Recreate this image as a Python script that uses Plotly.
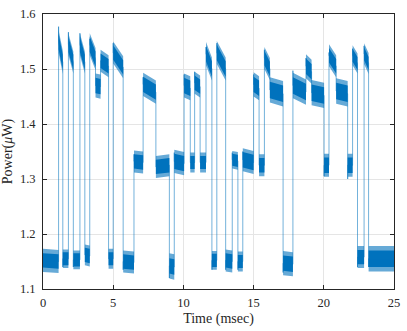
import plotly.graph_objs as go

# plateau edges (msec); plateau i runs t_edges[i] -> t_edges[i+1]
t_edges = [0.0, 1.11, 1.41, 1.81, 2.16, 2.63, 2.98, 3.33, 3.74, 4.10, 4.67,
           5.00, 5.71, 6.48, 7.13, 8.04, 9.00, 9.35, 10.05, 10.49, 10.80,
           11.19, 11.61, 12.03, 12.38, 13.01, 13.48, 13.88, 14.23, 15.00,
           15.39, 15.77, 16.16, 17.10, 17.80, 18.73, 19.13, 20.02, 20.37,
           20.88, 21.70, 22.05, 22.40, 22.87, 23.19, 25.0]
# power level at the start and at the end of each plateau (uW)
lvl_start = [1.152, 1.550, 1.155, 1.545, 1.153, 1.545, 1.162, 1.545, 1.470, 1.515,
             1.155, 1.530, 1.150, 1.332, 1.472, 1.322, 1.142, 1.332, 1.470, 1.330,
             1.475, 1.330, 1.528, 1.152, 1.530, 1.152, 1.335, 1.150, 1.335, 1.472,
             1.325, 1.520, 1.462, 1.147, 1.470, 1.505, 1.457, 1.325, 1.525, 1.460,
             1.325, 1.525, 1.158, 1.528, 1.155]
lvl_end = [1.150, 1.512, 1.155, 1.512, 1.153, 1.512, 1.160, 1.518, 1.468, 1.505,
           1.155, 1.503, 1.148, 1.330, 1.458, 1.325, 1.140, 1.328, 1.465, 1.330,
           1.468, 1.330, 1.500, 1.152, 1.500, 1.150, 1.333, 1.150, 1.330, 1.465,
           1.325, 1.500, 1.455, 1.145, 1.458, 1.495, 1.452, 1.325, 1.505, 1.455,
           1.325, 1.510, 1.158, 1.510, 1.155]
# value reached by the edge spike at the start of each plateau
spike = [1.152, 1.577, 1.140, 1.567, 1.140, 1.565, 1.185, 1.555, 1.470, 1.515,
         1.175, 1.547, 1.135, 1.345, 1.485, 1.335, 1.120, 1.348, 1.490, 1.345,
         1.495, 1.345, 1.540, 1.135, 1.547, 1.135, 1.348, 1.135, 1.350, 1.490,
         1.345, 1.535, 1.470, 1.130, 1.497, 1.520, 1.465, 1.305, 1.530, 1.470,
         1.300, 1.537, 1.140, 1.542, 1.140]
# noise on each plateau: dense core half width and outer half width
core = [0.013, 0.014, 0.012, 0.014, 0.012, 0.014, 0.013, 0.014, 0.014, 0.013,
        0.012, 0.013, 0.013, 0.013, 0.014, 0.013, 0.014, 0.014, 0.014, 0.012,
        0.013, 0.012, 0.014, 0.012, 0.014, 0.013, 0.011, 0.012, 0.014, 0.014,
        0.013, 0.013, 0.015, 0.014, 0.015, 0.014, 0.015, 0.014, 0.013, 0.015,
        0.014, 0.012, 0.013, 0.012, 0.015]
spread = [0.021, 0.021, 0.017, 0.020, 0.017, 0.020, 0.019, 0.020, 0.022, 0.020,
          0.018, 0.020, 0.020, 0.020, 0.021, 0.020, 0.023, 0.021, 0.022, 0.018,
          0.020, 0.018, 0.021, 0.017, 0.021, 0.020, 0.016, 0.018, 0.021, 0.022,
          0.020, 0.020, 0.023, 0.022, 0.023, 0.022, 0.023, 0.021, 0.020, 0.023,
          0.021, 0.018, 0.020, 0.019, 0.023]

blue = '#0072BD'


def band(widths):
    bx, by = [], []
    for i in range(len(lvl_start)):
        t0, t1 = t_edges[i], t_edges[i + 1]
        h = widths[i]
        bx += [t0, t1, t1, t0, t0, None]
        by += [lvl_start[i] + h, lvl_end[i] + h, lvl_end[i] - h, lvl_start[i] - h, lvl_start[i] + h, None]
    return bx, by


# edges + plateau centre line
lx, ly = [], []
for i in range(len(lvl_start)):
    t0, t1 = t_edges[i], t_edges[i + 1]
    lx += [t0, t0, t1]
    ly += [spike[i], lvl_start[i], lvl_end[i]]

ox, oy = band(spread)
cx, cy = band(core)

trace_outer = go.Scatter(x=ox, y=oy, mode='lines', fill='toself', fillcolor='rgba(0,114,189,0.6)',
                         line=dict(width=0), hoverinfo='skip', showlegend=False)
trace_core = go.Scatter(x=cx, y=cy, mode='lines', fill='toself', fillcolor=blue,
                        line=dict(width=0), hoverinfo='skip', showlegend=False)
trace_line = go.Scatter(x=lx, y=ly, mode='lines', line=dict(color='rgba(0,114,189,0.55)', width=1),
                        showlegend=False)

axis_common = dict(showline=True, linecolor='#262626', linewidth=1, mirror='ticks',
                   ticks='inside', ticklen=4, tickcolor='#262626', showgrid=True,
                   gridcolor='#e5e5e5', gridwidth=1, zeroline=False,
                   tickfont=dict(family='Liberation Serif', size=12.5, color='#262626'))

layout = go.Layout(
    width=407, height=331, margin=dict(l=41, r=9, t=7, b=42),
    paper_bgcolor='white', plot_bgcolor='white',
    xaxis=dict(range=[0, 25], tickvals=[0, 5, 10, 15, 20, 25], ticklabelstandoff=2,
               title=dict(text='Time (msec)', font=dict(family='Liberation Serif', size=14, color='#262626'),
                          standoff=4), **axis_common),
    yaxis=dict(range=[1.1, 1.6], tickvals=[1.1, 1.2, 1.3, 1.4, 1.5, 1.6], tickformat='.1f',
               ticklabelstandoff=4,
               title=dict(text='Power(<i>μ</i>W)', font=dict(family='Liberation Serif', size=14, color='#262626'),
                          standoff=3), **axis_common),
)

fig = go.Figure(data=[trace_outer, trace_core, trace_line], layout=layout)
fig.write_html("out.html", config={'displayModeBar': False},
               post_script="document.body.style.margin='0';")
